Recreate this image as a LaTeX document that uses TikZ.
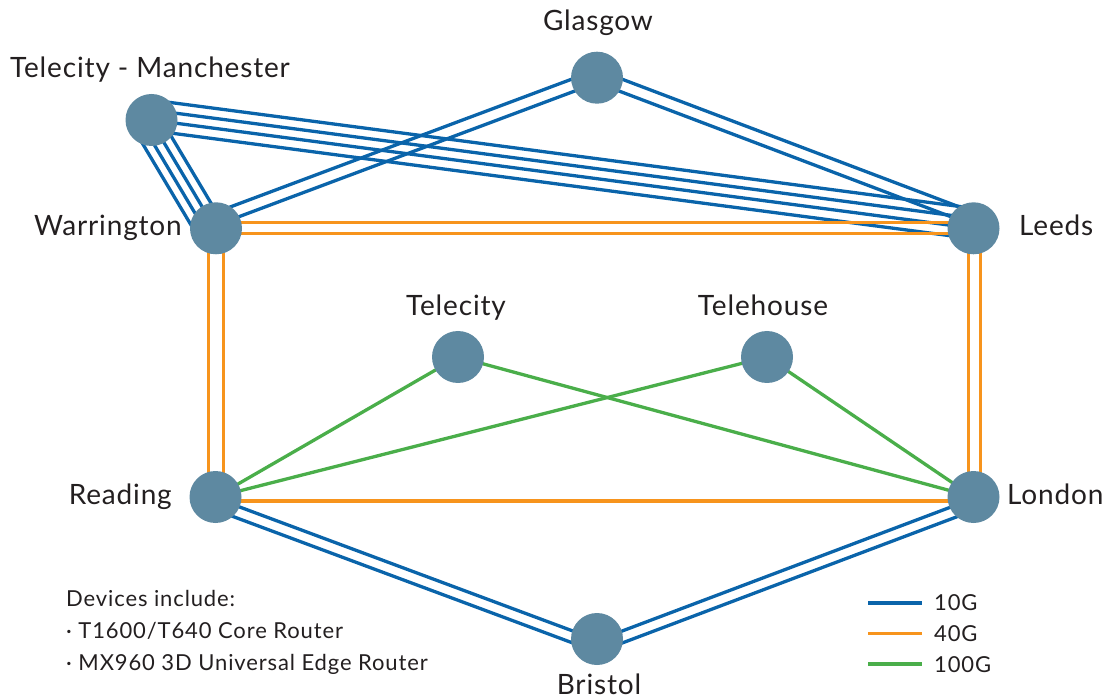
\documentclass[tikz,border=0pt]{standalone}
\usepackage{fontspec}
\setmainfont{Lato}
\newfontfamily\lblfont{Lato}[LetterSpace=3]
\newfontfamily\smallfont{Lato}[LetterSpace=4]
\usetikzlibrary{calc,backgrounds}
\definecolor{tenG}{RGB}{10,100,170}
\definecolor{fortyG}{RGB}{247,148,29}
\definecolor{hundredG}{RGB}{74,174,74}
\definecolor{sitefill}{RGB}{94,137,161}
\definecolor{txt}{RGB}{35,31,32}
\begin{document}
\begin{tikzpicture}[x=1pt,y=-1pt,
  site/.style={circle,fill=sitefill,minimum size=52pt,inner sep=0pt},
  lbl/.style={inner sep=0pt,text=txt,font=\lblfont\fontsize{28}{32}\selectfont},
  small/.style={inner sep=0pt,text=txt,font=\smallfont\fontsize{22}{25}\selectfont},
  ten/.style={draw=tenG,line width=3.3pt},
  forty/.style={draw=fortyG,line width=3.3pt},
  hundred/.style={draw=hundredG,line width=3.3pt}]
\useasboundingbox (0,0) rectangle (1111,700);

% sites
\node[site] (man) at (151.5,120) {};
\node[site] (gla) at (597,77.7) {};
\node[site] (war) at (216,228.3) {};
\node[site] (lee) at (973.5,228.3) {};
\node[site] (tc)  at (458,357) {};
\node[site] (th)  at (767,357) {};
\node[site] (rea) at (215.5,497) {};
\node[site] (lon) at (973.5,497) {};
\node[site] (bri) at (597,639) {};

% labels
\node[lbl,anchor=base] (lgla) at (598,31) {Glasgow};
\node[lbl,anchor=base] (lman) at (150,77.5) {Telecity - Manchester};
\node[lbl,anchor=base east] (lwar) at (182,235.5) {Warrington};
\node[lbl,anchor=base west] (llee) at (1019,235.5) {Leeds};
\node[lbl,anchor=base] (ltc) at (456,316) {Telecity};
\node[lbl,anchor=base] (lth) at (763,316) {Telehouse};
\node[lbl,anchor=base east] (lrea) at (172,504) {Reading};
\node[lbl,anchor=base west] (llon) at (1007,504) {London};
\node[lbl,anchor=base] (lbri) at (599,694) {Bristol};

% devices text
\node[small,anchor=base west] (d0) at (66,606.5) {Devices include:};
\node[small,anchor=base west] (d1) at (66,638) {· T1600/T640 Core Router};
\node[small,anchor=base west] (d2) at (66,670) {· MX960 3D Universal Edge Router};

% legend
\coordinate (k1a) at (868,603); \coordinate (k1b) at (922,603);
\coordinate (k2a) at (868,633.5); \coordinate (k2b) at (922,633.5);
\coordinate (k3a) at (868,664); \coordinate (k3b) at (922,664);
\draw[ten] (k1a) -- (k1b);
\draw[forty] (k2a) -- (k2b);
\draw[hundred] (k3a) -- (k3b);
\node[small,anchor=base west] (t1) at (934,610) {10G};
\node[small,anchor=base west] (t2) at (934,641.5) {40G};
\node[small,anchor=base west] (t3) at (934,672.5) {100G};

\begin{pgfonlayer}{background}
% Manchester - Leeds (4 x 10G)
\foreach \d in {-20,-10,0,10.5}
  \draw[ten] ($(man)+(0,\d)$) -- ($(lee)+(0,\d)$);
% Manchester - Warrington (4 x 10G)
\foreach \d in {-23,-12,-1,10}
  \draw[ten] ($(man)+(\d,0)$) -- ($(war)+(\d,0)$);
% Glasgow - Warrington / Leeds (2 x 10G)
\draw[ten] ($(war)+(0,-16)$) -- ($(gla)+(0,-8)$);
\draw[ten] ($(war)+(0,-3)$) -- ($(gla)+(0,5)$);
\draw[ten] ($(lee)+(0,-16)$) -- ($(gla)+(0,-8)$);
\draw[ten] ($(lee)+(0,-3)$) -- ($(gla)+(0,5)$);
% Reading - Bristol - London (2 x 10G)
\draw[ten] ($(rea)+(0,1)$) -- ($(bri)+(0,1)$);
\draw[ten] ($(rea)+(0,13)$) -- ($(bri)+(0,13)$);
\draw[ten] ($(bri)+(0,1.5)$) -- ($(lon)+(0,1.5)$);
\draw[ten] ($(bri)+(0,13.5)$) -- ($(lon)+(0,13.5)$);
% 40G
\draw[forty] ($(war)+(0,-6)$) -- ($(lee)+(0,-6)$);
\draw[forty] ($(war)+(0,5)$) -- ($(lee)+(0,5)$);
\draw[forty] ($(war)+(-7.5,0)$) -- ($(rea)+(-7,0)$);
\draw[forty] ($(war)+(7.5,0)$) -- ($(rea)+(8,0)$);
\draw[forty] ($(lee)+(-5,0)$) -- ($(lon)+(-5,0)$);
\draw[forty] ($(lee)+(7,0)$) -- ($(lon)+(7,0)$);
\draw[forty] ($(rea)+(0,4)$) -- ($(lon)+(0,4)$);
% 100G
\draw[hundred] (rea.center) -- (tc.center);
\draw[hundred] (rea.center) -- (th.center);
\draw[hundred] (tc.center) -- (lon.center);
\draw[hundred] (th.center) -- (lon.center);
\end{pgfonlayer}
\end{tikzpicture}
\end{document}
